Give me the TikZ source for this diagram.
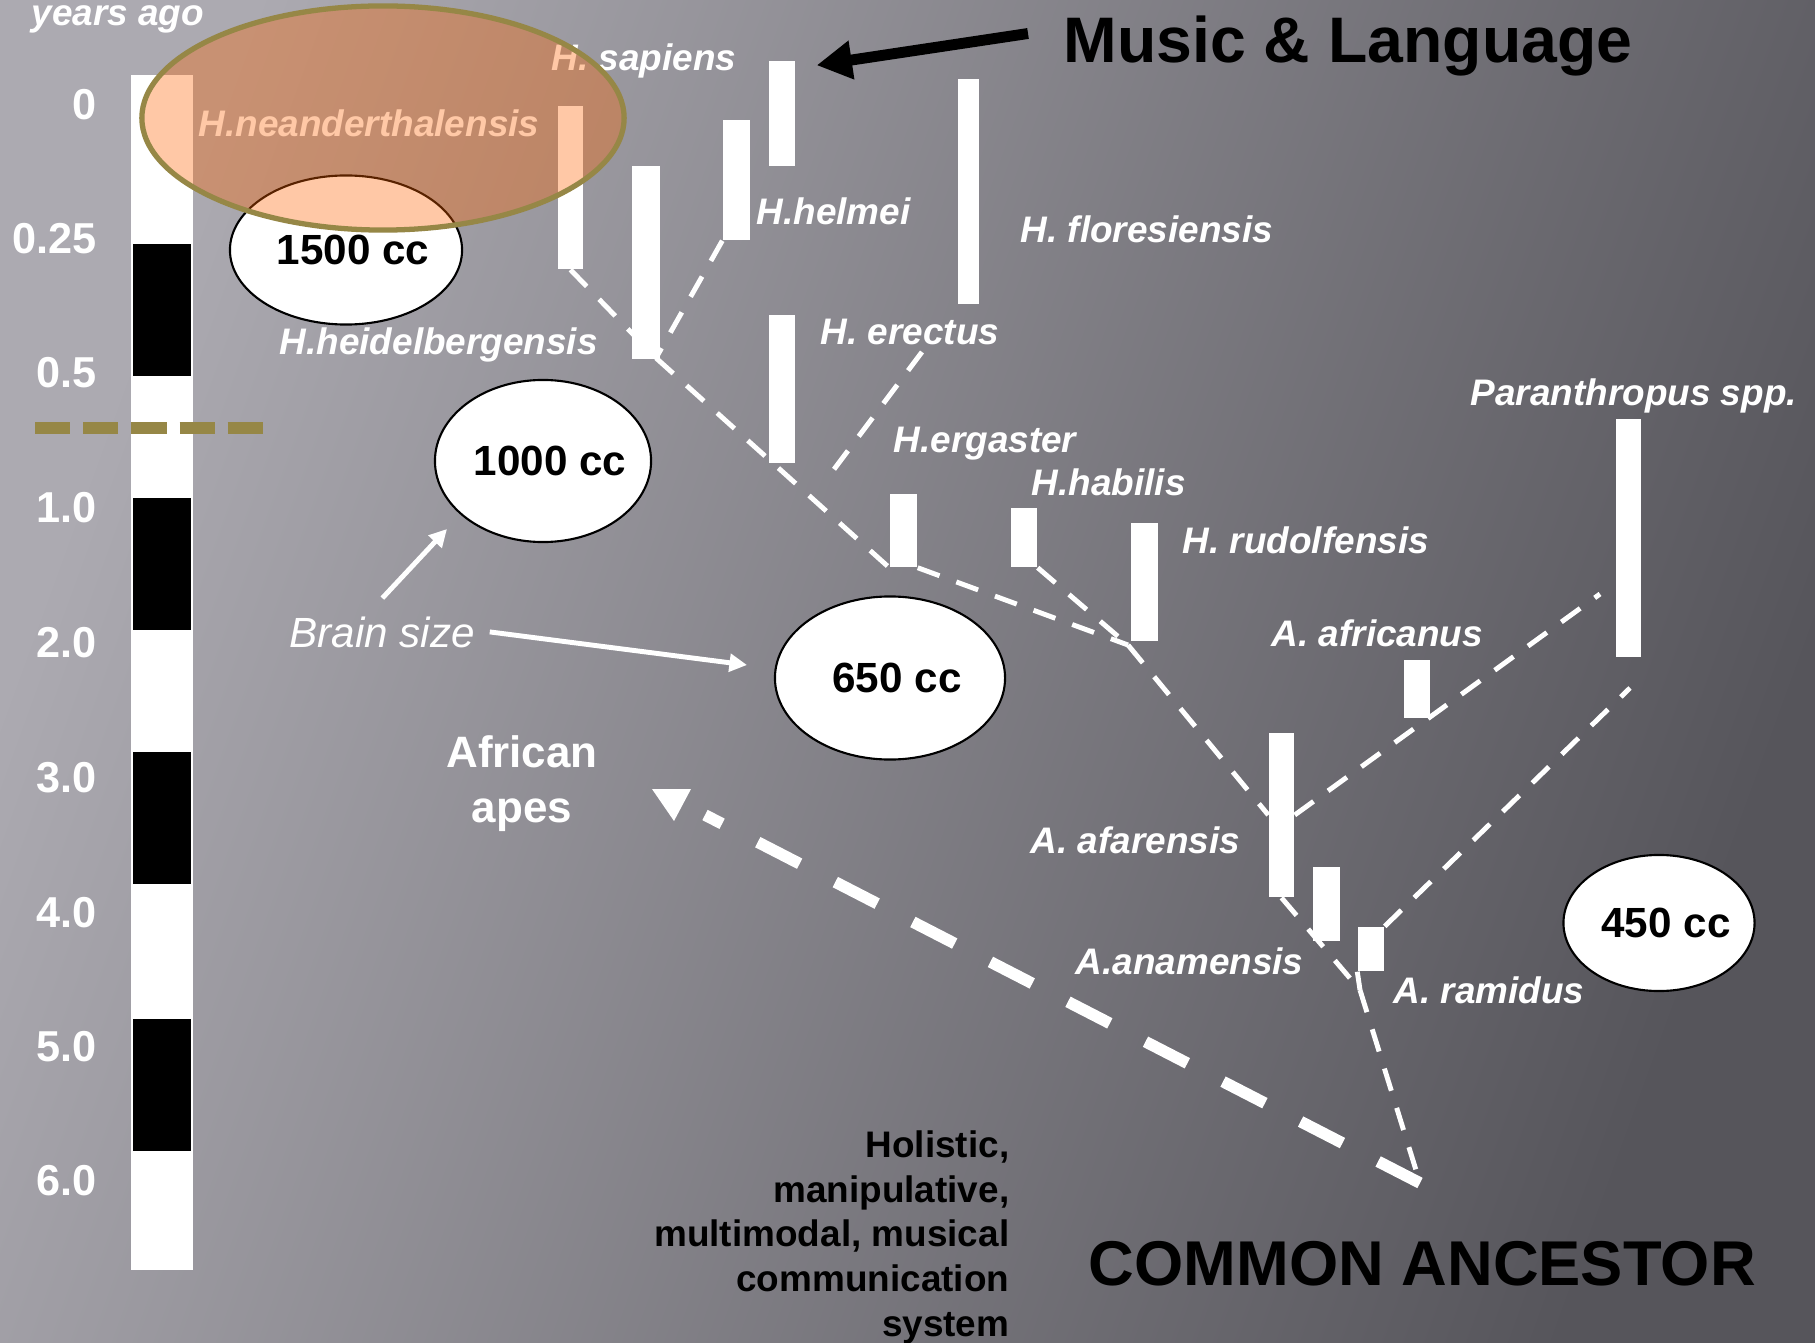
\documentclass[tikz,border=0pt]{standalone}
\usepackage{fontspec}
\setmainfont{Liberation Sans}
\usepackage{xcolor}
\usepackage{tikz}
\usetikzlibrary{shapes,shapes.geometric}
\usetikzlibrary{calc,arrows.meta,positioning}
\definecolor{bgl}{RGB}{172,170,177}
\definecolor{bgm}{RGB}{126,125,131}
\definecolor{bgr}{RGB}{86,85,91}
\definecolor{olv}{RGB}{150,135,70}
\definecolor{neaf}{RGB}{255,100,0}
\tikzset{
  bar/.style={rectangle, fill=white, inner sep=0pt},
  sp_l/.style={anchor=base west, inner sep=0pt, text=white, font=\fontsize{10.5}{12}\selectfont\bfseries\itshape},
  tck_l/.style={anchor=base east, inner sep=0pt, text=white, font=\fontsize{12.3}{14}\selectfont\bfseries},
  cc_n/.style={ellipse, draw=black, line width=0.6pt, fill=white, inner ysep=0pt, inner xsep=-2pt, font=\fontsize{12}{14}\selectfont\bfseries, execute at begin node=\hspace*{4pt}},
  dsh_w/.style={draw=white, line width=1.4pt, dash pattern=on 6.6pt off 5.1pt},
  big_d/.style={draw=white, line width=3.3pt, dash pattern=on 13.4pt off 11.4pt},
  brn_a/.style={draw=white, line width=1.4pt, -{Triangle[length=5pt,width=5pt]}},
  mus_a/.style={draw=black, line width=3.1pt, -{Triangle[length=10pt,width=10.5pt]}}
}

\begin{document}
\begin{tikzpicture}[x=0.01cm, y=-0.01cm]
	\useasboundingbox (0,0) rectangle (1815,1343);
	\shade[left color=bgl, middle color=bgm, right color=bgr, shading angle=70] (0,0) rectangle (1815,1343);
	\node[bar, minimum width=0.62cm, minimum height=11.95cm] (scl) at (162,672.5) {};
	\foreach \yy in {244,498,752,1019}
		\fill[black] (133,\yy) rectangle ++(58,132);
	\foreach \yy/\tx in {120/0, 254/0.25, 388/0.5, 523/1.0, 657/2.0, 792/3.0, 927/4.0, 1061/5.0, 1195/6.0}
		\node[tck_l] (tk\yy) at (97,\yy) {\tx};
	\node[sp_l] (yrs) at (31,26) {years ago};
	\draw[olv, line width=3.3pt, dash pattern=on 10pt off 3.7pt] (35,428) -- (263,428);
	\foreach \nm/\xx/\yy/\ww/\hh in {nea/570.5/187.5/0.25/1.63, hei/646/262.5/0.28/1.93,
			hel/736.5/180/0.27/1.20, sap/782/113.5/0.26/1.05, flo/968.5/191.5/0.21/2.25,
			ere/782/389/0.26/1.48, erg/903.5/530.5/0.27/0.73, hab/1024/537.5/0.26/0.59,
			rud/1144.5/582/0.27/1.18, par/1628.5/538/0.25/2.38, afr/1417/689/0.26/0.58,
			afa/1281.5/815/0.25/1.64, ana/1326.5/904/0.27/0.74, ram/1371/949/0.26/0.44}
		\node[bar, minimum width=\ww cm, minimum height=\hh cm] (\nm) at (\xx,\yy) {};
	\coordinate (j1) at (656,358);
	\coordinate (j2) at (1128,645);
	\coordinate (j3) at (1360,990);
	\coordinate (anc) at (1420,1183);
	\coordinate (pj) at (1630,688);
	\coordinate (pa) at (1600,594);
	\coordinate (fl1) at (922,352);
	\coordinate (fl2) at (832,472);
	\coordinate (apx) at (705,815);
	\draw[dsh_w] (nea.south) -- (j1);
	\draw[dsh_w] (hel.south west) -- (j1);
	\draw[dsh_w] (j1) -- (erg.south west);
	\draw[dsh_w] (fl1) -- (fl2);
	\draw[dsh_w] (erg.south east) -- (j2);
	\draw[dsh_w] (hab.south east) -- (j2);
	\draw[dsh_w] (j2) -- (afa.west);
	\draw[dsh_w] (afa.east) -- (pa);
	\draw[dsh_w] (afa.south) -- (j3);
	\draw[dsh_w] (ram.south west) -- (j3);
	\draw[dsh_w] (ram.north east) -- (pj);
	\draw[dsh_w, shorten >=3.5pt] (j3) -- (anc);
	\draw[big_d] (anc) -- (apx);
	\fill[white] (652,789) -- (691,789) -- (674,821) -- cycle;
	\foreach \nm/\xx/\yy/\tx in {sap_l/551/71/H. sapiens, nea_l/198/137/H.neanderthalensis,
			hel_l/756/225/H.helmei, flo_l/1020/243/H. floresiensis, hei_l/279/355/H.heidelbergensis,
			ere_l/820/345/H. erectus, erg_l/893/453/H.ergaster, hab_l/1031/495/H.habilis,
			rud_l/1182/554/H. rudolfensis, par_l/1470/406/Paranthropus spp., afr_l/1271/646/A. africanus,
			afa_l/1030/853/A. afarensis, ana_l/1075/974/A.anamensis, ram_l/1393/1003/A. ramidus}
		\node[sp_l] (\nm) at (\xx,\yy) {\tx};
	\node[cc_n, minimum width=2.32cm, minimum height=1.49cm] (c1500) at (346,250) {1500 cc};
	\node[cc_n, minimum width=2.16cm, minimum height=1.62cm] (c1000) at (543,461) {1000 cc};
	\node[cc_n, minimum width=2.30cm, minimum height=1.63cm] (c650) at (890,678) {650 cc};
	\node[cc_n, minimum width=1.91cm, minimum height=1.36cm] (c450) at (1659,923) {450 cc};
	\node[anchor=base west, inner sep=0pt, text=white, font=\fontsize{12}{14}\selectfont\itshape] (bsz) at (289,647) {Brain size};
	\coordinate (bt1) at (447,529);
	\coordinate (bt2) at (747,665);
	\draw[brn_a] ([yshift=5pt]bsz.north) -- (bt1);
	\draw[brn_a] ([xshift=4pt]bsz.east) -- (bt2);
	\node[align=center, inner sep=0pt, text=white, font=\fontsize{12.5}{15.6}\selectfont\bfseries] (apes) at (522,784) {African\\apes};
	\node[anchor=base west, inner sep=0pt, font=\fontsize{18.3}{22}\selectfont\bfseries] (msc) at (1063,63) {Music \& Language};
	\draw[mus_a] ([shift={(-35,-13)}]msc.west) -- ([shift={(21,5)}]sap.north east);
	\node[anchor=base west, inner sep=0pt, font=\fontsize{18}{22}\selectfont\bfseries] (anc_l) at (1088,1285) {COMMON ANCESTOR};
	\node[anchor=north east, align=right, inner sep=0pt, font=\fontsize{10.5}{12.7}\selectfont\bfseries] (hol) at (1010,1130) {Holistic,\\manipulative,\\multimodal, musical\\communication\\system};
	\node[ellipse, draw=olv, line width=1.5pt, fill=neaf, fill opacity=0.35, minimum width=4.82cm, minimum height=2.24cm, inner sep=0pt] (nea_e) at (383,118) {};
\end{tikzpicture}
\end{document}
